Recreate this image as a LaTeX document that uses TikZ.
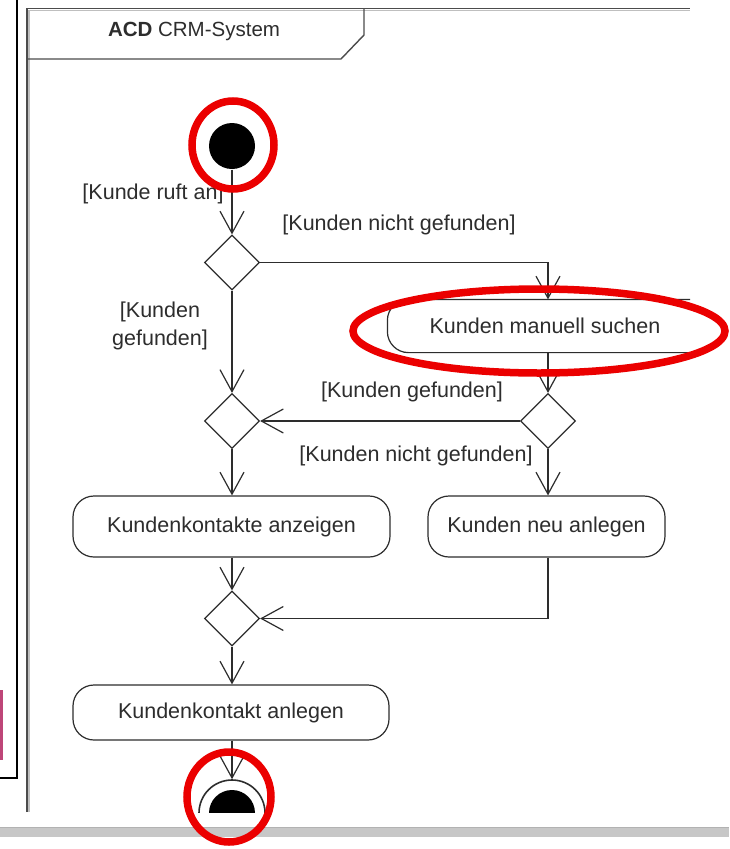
\documentclass[tikz,border=0pt]{standalone}
\usepackage{fontspec}
\setmainfont{Liberation Sans}
\usetikzlibrary{arrows.meta,shapes.geometric,calc}
\definecolor{ink}{RGB}{45,45,45}
\definecolor{mark}{RGB}{235,0,0}
\definecolor{magbar}{RGB}{190,70,120}
\begin{document}
\begin{tikzpicture}[x=1pt,y=-1pt,
  line width=1.2pt,
  lbl/.style={text=ink, font=\fontsize{21.5}{28}\selectfont, inner sep=0pt},
  arr/.style={draw=ink, -{Straight Barb[length=22pt,width=24pt]}},
  act/.style={draw=ink, rectangle, rounded corners=21pt, inner sep=0pt, fill=white,
     text=ink, font=\fontsize{21.5}{28}\selectfont},
  acttext/.style={rectangle, inner sep=0pt, text=ink, font=\fontsize{21.5}{28}\selectfont},
  dec/.style={draw=ink, diamond, shape aspect=1, minimum width=55pt, minimum height=55pt, inner sep=0pt, fill=white},
  redmark/.style={draw=mark, line width=7.5pt}
]
\useasboundingbox (0,0) rectangle (729,849);
\fill[white] (0,0) rectangle (729,849);

% left window remnant
\draw[black, line width=2pt] (17,0) -- (17,778) -- (0,778);
\fill[magbar] (0,690) rectangle (2.5,760);

% frame
\draw[black!25, line width=1.5pt] (29,812) -- (29,10.5) -- (690,10.5);
\draw[black!70, line width=1.6pt] (27,812) -- (27,8.5) -- (690,8.5);
\draw[black!70, line width=1.4pt] (27,59) -- (341,59) -- (364,35) -- (364,8.5);
\node[text=ink, font=\fontsize{20.5}{24}\selectfont, inner sep=0pt] (title) at (194,31) {\textbf{ACD} CRM-System};

\begin{scope}
\clip (27,8) rectangle (690,812);
% nodes
\node[circle, fill=black, minimum size=46pt, inner sep=0pt] (init) at (232,146) {};
\node[dec] (d1) at (232,262.5) {};
\node[acttext, minimum width=314pt, minimum height=52pt] (manuell) at (545,326) {Kunden manuell suchen};
\draw[ink, rounded corners=21pt] ([xshift=40pt]manuell.north east) -- (manuell.north west)
   -- (manuell.south west) -- ([xshift=40pt]manuell.south east);
\node[dec] (d2) at (548,421) {};
\node[dec] (d3) at (232,421) {};
\node[act, minimum width=317pt, minimum height=61pt] (kontakte) at (231.5,526.5) {Kundenkontakte anzeigen};
\node[act, minimum width=237pt, minimum height=61pt] (neu) at (546.5,526.5) {Kunden neu anlegen};
\node[dec] (d4) at (232,618.5) {};
\node[act, minimum width=316pt, minimum height=55pt] (anlegen) at (231,712.5) {Kundenkontakt anlegen};
\node[circle, draw=ink, line width=1.6pt, minimum size=66pt, inner sep=0pt] (final) at (232,813) {};
\fill[black] (final.center) circle[radius=23pt];

% connectors
\draw[arr] (init.south) -- (d1.north);
\draw[arr] (d1.east) -| (d2 |- manuell.north);
\draw[arr] (d2 |- manuell.south) -- (d2.north);
\draw[arr] (d2.west) -- (d3.east);
\draw[arr] (d1.south) -- (d3.north);
\draw[arr] (d2.south) -- (d2.south |- neu.north);
\draw[arr] (d3.south) -- (d3.south |- kontakte.north);
\draw[arr] (d4 |- kontakte.south) -- (d4.north);
\draw[arr] (d2 |- neu.south) |- (d4.east);
\draw[arr] (d4.south) -- (d4.south |- anlegen.north);
\draw[arr] (final |- anlegen.south) -- (final.north);

% guard labels
\node[lbl] (g1) at (153,194) {[Kunde ruft an]};
\node[lbl] (g2) at (399,225) {[Kunden nicht gefunden]};
\node[lbl, align=center] (g3) at (160,326) {[Kunden\\gefunden]};
\node[lbl] (g4) at (412,392) {[Kunden gefunden]};
\node[lbl] (g5) at (416,456) {[Kunden nicht gefunden]};
\end{scope}

% bottom grey bar
\fill[black!22] (0,827) rectangle (729,837);
\draw[black!30, line width=0.8pt] (0,827.5) -- (729,827.5);

% red markings
\draw[redmark] (233,145) ellipse[x radius=41, y radius=44];
\draw[redmark] (539,331) ellipse[x radius=186, y radius=42];
\draw[redmark] (229,797) ellipse[x radius=42, y radius=45];
\end{tikzpicture}
\end{document}
